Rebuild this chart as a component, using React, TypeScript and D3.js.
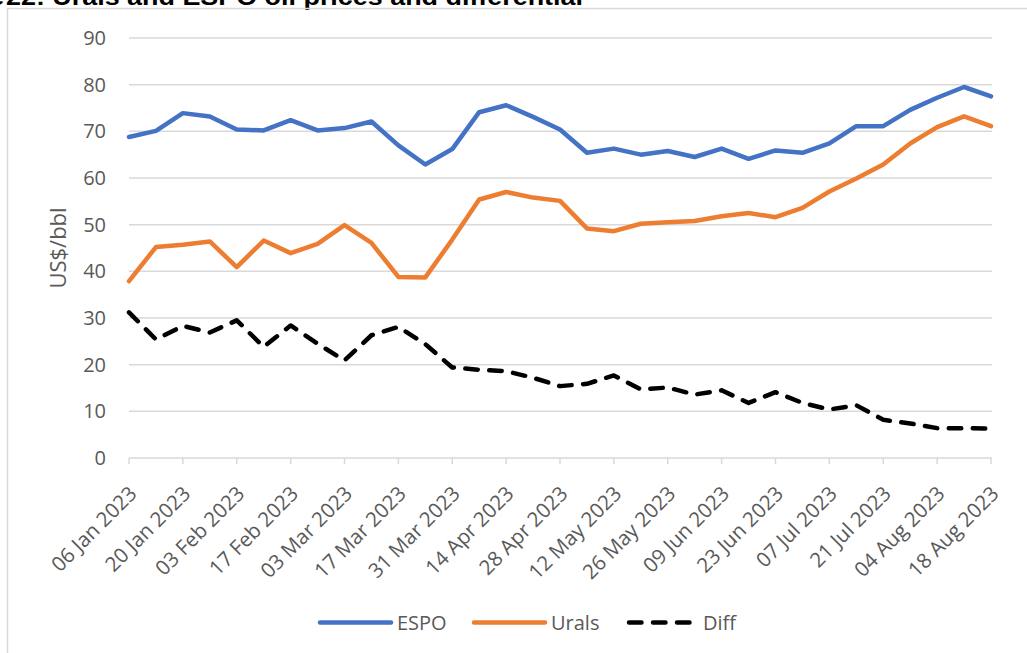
import React from "react";
import * as d3 from "d3";

const dates: string[] = [
  "06 Jan 2023", "13 Jan 2023", "20 Jan 2023", "27 Jan 2023",
  "03 Feb 2023", "10 Feb 2023", "17 Feb 2023", "24 Feb 2023",
  "03 Mar 2023", "10 Mar 2023", "17 Mar 2023", "24 Mar 2023", "31 Mar 2023",
  "07 Apr 2023", "14 Apr 2023", "21 Apr 2023", "28 Apr 2023",
  "05 May 2023", "12 May 2023", "19 May 2023", "26 May 2023",
  "02 Jun 2023", "09 Jun 2023", "16 Jun 2023", "23 Jun 2023", "30 Jun 2023",
  "07 Jul 2023", "14 Jul 2023", "21 Jul 2023", "28 Jul 2023",
  "04 Aug 2023", "11 Aug 2023", "18 Aug 2023",
];

const espo: number[] = [
  68.8, 70.1, 73.9, 73.2, 70.4, 70.2, 72.4, 70.2, 70.7, 72.1, 67.0, 62.9, 66.2,
  74.1, 75.6, 73.1, 70.4, 65.4, 66.3, 65.0, 65.8, 64.5, 66.3, 64.1, 65.9, 65.4,
  67.4, 71.1, 71.1, 74.6, 77.2, 79.5, 77.5,
];

const urals: number[] = [
  37.9, 45.2, 45.7, 46.4, 40.9, 46.6, 43.9, 45.9, 49.9, 46.1, 38.8, 38.7, 46.8,
  55.4, 57.0, 55.8, 55.1, 49.2, 48.6, 50.2, 50.5, 50.8, 51.8, 52.5, 51.6, 53.6,
  57.1, 59.9, 62.9, 67.4, 70.9, 73.2, 71.1,
];

const diff: number[] = [
  31.2, 25.4, 28.3, 26.9, 29.5, 23.8, 28.4, 24.5, 20.9, 26.3, 28.1, 24.4, 19.4,
  18.9, 18.6, 17.2, 15.4, 15.9, 17.7, 14.7, 15.1, 13.6, 14.5, 11.8, 14.1, 11.8,
  10.4, 11.3, 8.2, 7.4, 6.4, 6.4, 6.3,
];

const yTicks: number[] = [0, 10, 20, 30, 40, 50, 60, 70, 80, 90];

const seriesNames = ["ESPO", "Urals", "Diff"];
const titlePrefix = "Figure ";
const titleRest = "22: Urals and ESPO oil prices and differential";
const yTitle = "US$/bbl";

const W = 1027;
const H = 653;
const FONT = "'Open Sans', 'Liberation Sans', sans-serif";
const TXT = "#595959";
const GRID = "#D9D9D9";

export default function App() {
  const x = d3.scalePoint<string>().domain(dates).range([129, 991]);
  const y = d3.scaleLinear().domain([0, 90]).range([458, 38]);
  const line = d3
    .line<number>()
    .x((_, i) => x(dates[i]) as number)
    .y((d) => y(d));

  const tickDates = dates.filter((_, i) => i % 2 === 0);
  const series = [
    { name: seriesNames[0], data: espo, color: "#4472C4", dash: undefined as string | undefined },
    { name: seriesNames[1], data: urals, color: "#ED7D31", dash: undefined as string | undefined },
    { name: seriesNames[2], data: diff, color: "#000000", dash: "12.5 11.5" },
  ];
  const legend = [
    { x1: 320, x2: 391, tx: 397 },
    { x1: 474, x2: 545, tx: 551 },
    { x1: 629, x2: 690, tx: 703 },
  ];

  return (
    <svg
      width={W}
      height={H}
      style={{ position: "absolute", left: 0, top: 0, background: "#fff" }}
    >
      <rect x={0} y={0} width={W} height={H} fill="#fff" />
      <text
        x={4}
        y={5}
        textAnchor="end"
        fontFamily="'Liberation Sans', Arial, sans-serif"
        fontWeight="bold"
        fontSize={24}
        fill="#000"
      >
        {titlePrefix}
      </text>
      <text
        x={6}
        y={5}
        textLength={577}
        lengthAdjust="spacingAndGlyphs"
        fontFamily="'Liberation Sans', Arial, sans-serif"
        fontWeight="bold"
        fontSize={24}
        fill="#000"
      >
        {titleRest}
      </text>
      <path
        d={`M7.5,${H + 2} V8.5 H${W + 2}`}
        fill="none"
        stroke={GRID}
        strokeWidth={1.5}
      />
      {yTicks.map((t) => (
        <g key={t}>
          <line
            x1={129}
            x2={992}
            y1={y(t)}
            y2={y(t)}
            stroke={GRID}
            strokeWidth={1.5}
          />
          <text
            x={106}
            y={y(t)}
            dy="0.35em"
            textAnchor="end"
            fontFamily={FONT}
            fontSize={20}
            fill={TXT}
          >
            {t}
          </text>
        </g>
      ))}
      {tickDates.map((d) => (
        <g key={d}>
          <line
            x1={x(d)}
            x2={x(d)}
            y1={y(0)}
            y2={y(0) + 6}
            stroke={GRID}
            strokeWidth={1.5}
          />
          <text
            transform={`translate(${(x(d) as number) + 9},${y(0) + 37}) rotate(-45)`}
            textAnchor="end"
            fontFamily={FONT}
            fontSize={20.5}
            fill={TXT}
          >
            {d}
          </text>
        </g>
      ))}
      <text
        transform={`translate(66,${(y(0) + y(90)) / 2}) rotate(-90)`}
        textAnchor="middle"
        fontFamily={FONT}
        fontSize={22}
        fill={TXT}
      >
        {yTitle}
      </text>
      {series.map((s) => (
        <path
          key={s.name}
          d={line(s.data) || ""}
          fill="none"
          stroke={s.color}
          strokeWidth={4.5}
          strokeLinejoin="round"
          strokeLinecap="round"
          strokeDasharray={s.dash}
        />
      ))}
      {series.map((s, i) => (
        <g key={"lg" + s.name}>
          <line
            x1={legend[i].x1}
            x2={legend[i].x2}
            y1={622.5}
            y2={622.5}
            stroke={s.color}
            strokeWidth={4.5}
            strokeLinecap="round"
            strokeDasharray={s.dash}
          />
          <text
            x={legend[i].tx}
            y={622.5}
            dy="0.35em"
            fontFamily={FONT}
            fontSize={20}
            fill={TXT}
          >
            {s.name}
          </text>
        </g>
      ))}
    </svg>
  );
}
